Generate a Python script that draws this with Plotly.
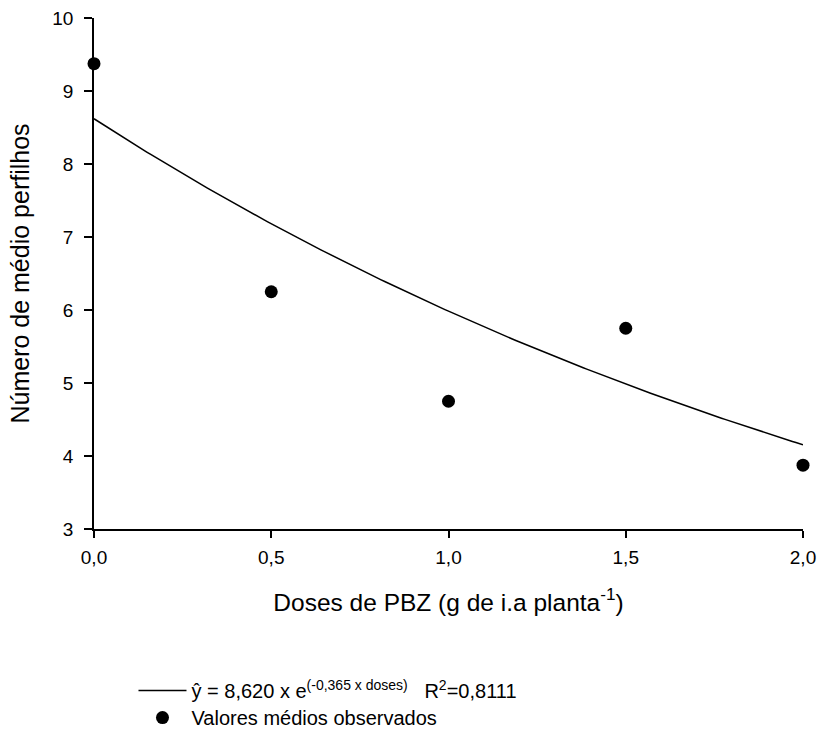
import numpy as np
import plotly.graph_objects as go

# Observed mean number of tillers per PBZ dose
doses = [0.0, 0.5, 1.0, 1.5, 2.0]
perfilhos = [9.375, 6.25, 4.75, 5.75, 3.875]

# Fitted exponential model: y = a * exp(b * dose)
coef_a = 8.620
coef_b = -0.365
r2 = 0.8111

x_ticks = [0.0, 0.5, 1.0, 1.5, 2.0]
y_ticks = [3, 4, 5, 6, 7, 8, 9, 10]

x_fit = np.linspace(0, 2, 201)
y_fit = coef_a * np.exp(coef_b * x_fit)

font_family = "Liberation Sans, Arial, sans-serif"

fig = go.Figure()
fig.add_trace(go.Scatter(
    x=x_fit, y=y_fit, mode="lines",
    line=dict(color="black", width=1.5),
    name="ŷ = 8,620 x e<sup>(-0,365 x doses)</sup>   R<sup>2</sup>=0,8111",
    legend="legend",
    cliponaxis=False,
))
fig.add_trace(go.Scatter(
    x=doses, y=perfilhos, mode="markers",
    marker=dict(color="black", size=13),
    name="Valores médios observados",
    legend="legend2",
    cliponaxis=False,
))

legend_style = dict(
    xanchor="left", yanchor="middle",
    font=dict(size=20), bgcolor="rgba(0,0,0,0)",
    itemwidth=48,
)

fig.update_layout(
    width=821, height=729,
    margin=dict(l=94, r=18, t=18, b=200, autoexpand=False),
    plot_bgcolor="white", paper_bgcolor="white",
    separators=",.",
    font=dict(family=font_family, size=19, color="black"),
    showlegend=True,
    legend=dict(x=0.0557, y=-0.316, **legend_style),
    legend2=dict(x=0.0557, y=-0.369, **legend_style),
    xaxis=dict(
        range=[0, 2], tickvals=x_ticks, tickformat=".1f",
        showline=True, linecolor="black", linewidth=1.5,
        ticks="outside", ticklen=7, tickwidth=1.5, tickcolor="black",
        ticklabelstandoff=3,
        showgrid=False, zeroline=False,
        title=dict(text="Doses de PBZ (g de i.a planta<sup>-1</sup>)",
                   font=dict(size=24.5), standoff=27),
    ),
    yaxis=dict(
        range=[3, 10], tickvals=y_ticks,
        showline=True, linecolor="black", linewidth=1.5,
        ticks="outside", ticklen=8, tickwidth=1.5, tickcolor="black",
        ticklabelstandoff=7,
        showgrid=False, zeroline=False,
        title=dict(text="Número de médio perfilhos", font=dict(size=25), standoff=16),
    ),
)

fig.write_html("out.html")
